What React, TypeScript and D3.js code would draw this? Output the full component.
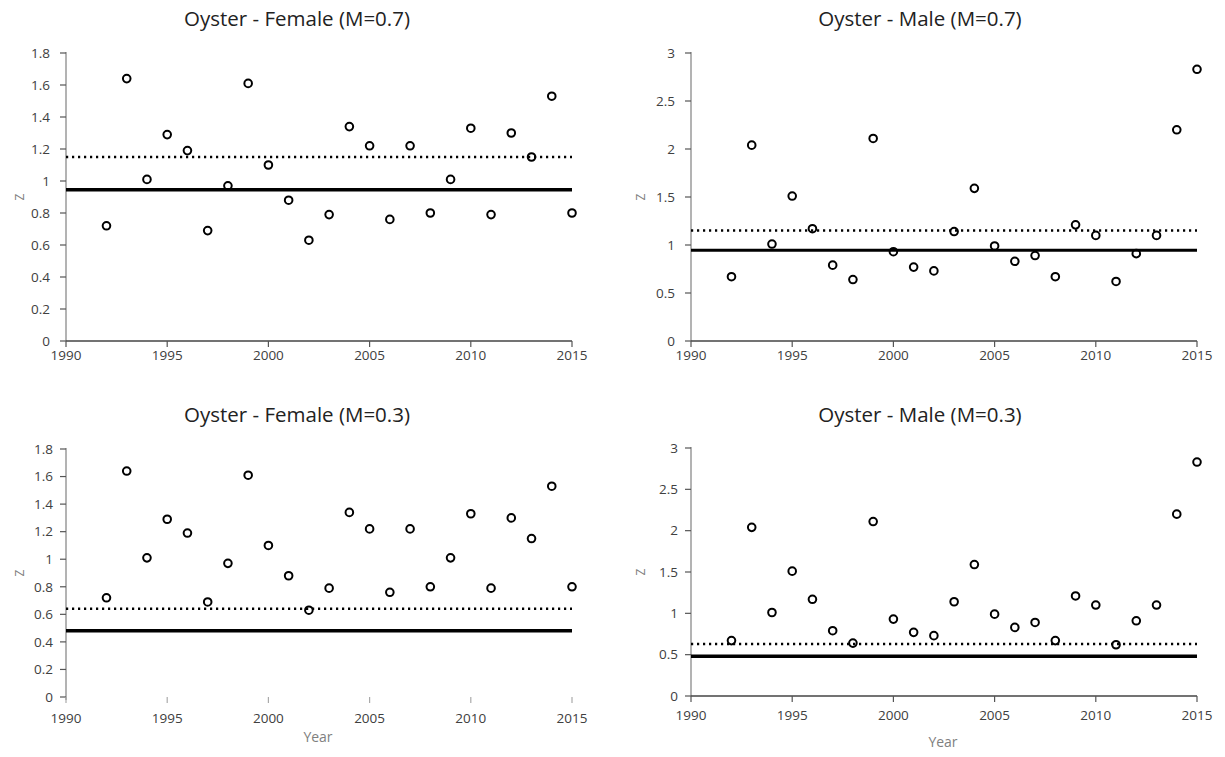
import React from "react";
import * as d3 from "d3";

const years = [1992, 1993, 1994, 1995, 1996, 1997, 1998, 1999, 2000, 2001, 2002, 2003, 2004, 2005, 2006, 2007, 2008, 2009, 2010, 2011, 2012, 2013, 2014, 2015];
const femaleZ = [0.72, 1.64, 1.01, 1.29, 1.19, 0.69, 0.97, 1.61, 1.10, 0.88, 0.63, 0.79, 1.34, 1.22, 0.76, 1.22, 0.80, 1.01, 1.33, 0.79, 1.30, 1.15, 1.53, 0.80];
const maleZ = [0.67, 2.04, 1.01, 1.51, 1.17, 0.79, 0.64, 2.11, 0.93, 0.77, 0.73, 1.14, 1.59, 0.99, 0.83, 0.89, 0.67, 1.21, 1.10, 0.62, 0.91, 1.10, 2.20, 2.83];
const xTicks = [1990, 1995, 2000, 2005, 2010, 2015];
const femaleYTicks = [0, 0.2, 0.4, 0.6, 0.8, 1, 1.2, 1.4, 1.6, 1.8];
const maleYTicks = [0, 0.5, 1, 1.5, 2, 2.5, 3];
const titles = ["Oyster - Female (M=0.7)", "Oyster - Male (M=0.7)", "Oyster - Female (M=0.3)", "Oyster - Male (M=0.3)"];
const dottedRef = [1.15, 1.15, 0.64, 0.63];
const solidRef = [0.945, 0.945, 0.48, 0.48];

const FONT = "'Open Sans', sans-serif";

type Layout = {
  left: number; right: number; top: number; bottom: number;
  titleX: number; titleY: number; zX: number; xLabelDy: number; yLabelGap: number;
  xLine: boolean; yearY: number | null; solidW: number;
};

const layouts: Layout[] = [
  { left: 66, right: 572, top: 53, bottom: 341, titleX: 297, titleY: 26, zX: 20, xLabelDy: 19, yLabelGap: 16, xLine: true, yearY: null, solidW: 3.5 },
  { left: 691, right: 1197, top: 53, bottom: 341, titleX: 920, titleY: 26, zX: 641, xLabelDy: 19, yLabelGap: 16, xLine: true, yearY: null, solidW: 3 },
  { left: 66, right: 572, top: 449, bottom: 697, titleX: 297, titleY: 422, zX: 20, xLabelDy: 26, yLabelGap: 13, xLine: false, yearY: 742, solidW: 3.5 },
  { left: 691, right: 1197, top: 448, bottom: 696, titleX: 920, titleY: 422, zX: 641, xLabelDy: 24, yLabelGap: 13, xLine: true, yearY: 747, solidW: 3.5 },
];

const seriesByPanel = [femaleZ, maleZ, femaleZ, maleZ];
const yTicksByPanel = [femaleYTicks, maleYTicks, femaleYTicks, maleYTicks];

function Panel({ idx }: { idx: number }) {
  const L = layouts[idx];
  const values = seriesByPanel[idx];
  const yTicks = yTicksByPanel[idx];
  const x = d3.scaleLinear().domain([1990, 2015]).range([L.left, L.right]);
  const y = d3.scaleLinear().domain([0, yTicks[yTicks.length - 1]]).range([L.bottom, L.top]);
  const midY = (L.top + L.bottom) / 2;
  return (
    <g>
      <text x={L.titleX} y={L.titleY} textAnchor="middle" fontFamily={FONT} fontSize={20.5} fill="#222">{titles[idx]}</text>
      {/* y axis */}
      <line x1={L.left} x2={L.left} y1={y(yTicks[yTicks.length - 1]) - 1} y2={L.bottom + (L.xLine ? 0 : 3)} stroke="#9a9a9a" strokeWidth={1.5} />
      {yTicks.map((t) => (
        <g key={"y" + t}>
          <line x1={L.left - 6} x2={L.left} y1={y(t)} y2={y(t)} stroke="#555" strokeWidth={1.2} />
          <text x={L.left - L.yLabelGap} y={y(t)} dy="0.35em" textAnchor="end" fontFamily={FONT} fontSize={13.5} fill="#404040">{d3.format("~g")(t)}</text>
        </g>
      ))}
      {/* x axis */}
      {L.xLine && <line x1={L.left} x2={L.right} y1={L.bottom} y2={L.bottom} stroke="#444" strokeWidth={1.5} />}
      {xTicks.map((t) => (
        <g key={"x" + t}>
          <line x1={x(t)} x2={x(t)} y1={L.bottom} y2={L.bottom + 6} stroke={L.xLine ? "#555" : "#aaa"} strokeWidth={1.2} />
          <text x={x(t)} y={L.bottom + L.xLabelDy} textAnchor="middle" fontFamily={FONT} fontSize={13.5} fill="#404040">{t}</text>
        </g>
      ))}
      <text transform={`translate(${L.zX},${midY}) rotate(-90)`} textAnchor="middle" dy="0.35em" fontFamily={FONT} fontSize={12} fill="#808080">Z</text>
      {L.yearY !== null && (
        <text x={(L.left + L.right) / 2 - 1} y={L.yearY} textAnchor="middle" fontFamily={FONT} fontSize={14} fill="#808080">Year</text>
      )}
      {/* points */}
      {values.map((v, i) => (
        <circle key={"p" + i} cx={x(years[i])} cy={y(v)} r={3.8} fill="#fff" stroke="#000" strokeWidth={2} />
      ))}
      {/* reference lines */}
      <line x1={x(1990)} x2={x(2015)} y1={y(dottedRef[idx])} y2={y(dottedRef[idx])} stroke="#000" strokeWidth={2.5} strokeDasharray="2.2 3.8" />
      <line x1={x(1990)} x2={x(2015)} y1={y(solidRef[idx])} y2={y(solidRef[idx])} stroke="#000" strokeWidth={L.solidW} />
    </g>
  );
}

export default function App() {
  return (
    <svg width={1225} height={757} style={{ position: "absolute", left: 0, top: 0, background: "#fff" }}>
      <rect x={0} y={0} width={1225} height={757} fill="#fff" />
      {layouts.map((_, i) => (
        <Panel key={i} idx={i} />
      ))}
    </svg>
  );
}
